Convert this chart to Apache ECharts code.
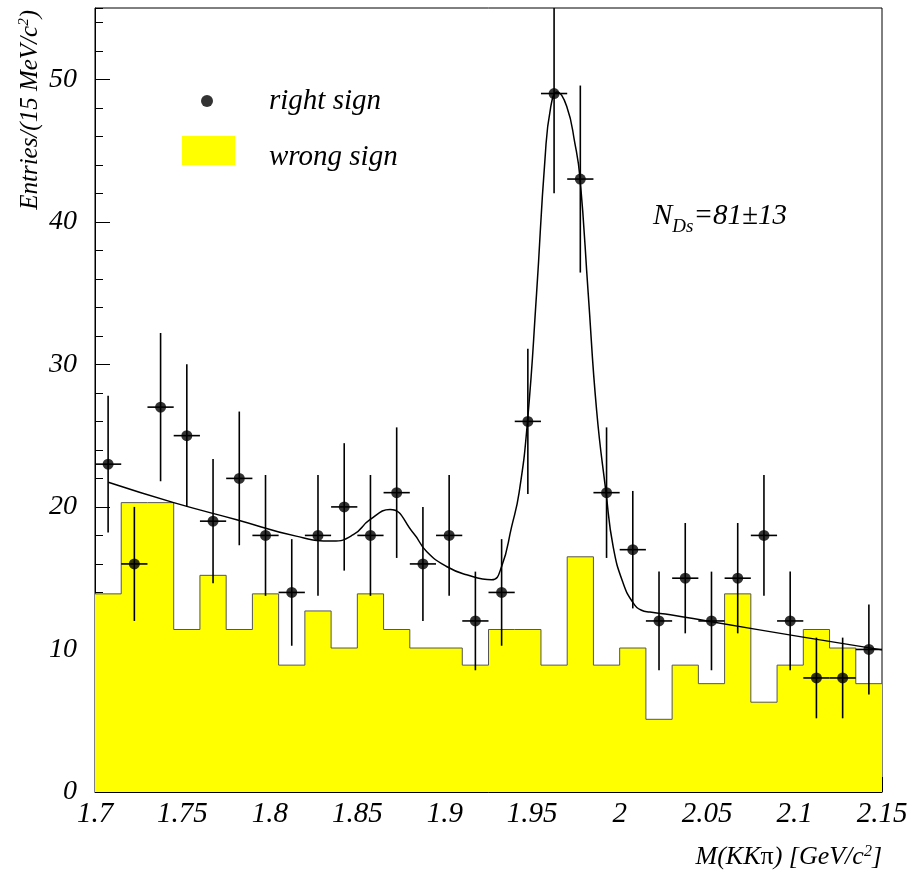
<!DOCTYPE html>
<html>
<head>
<meta charset="utf-8">
<script src="https://cdn.jsdelivr.net/npm/echarts@6/dist/echarts.min.js"></script>
<style>
html,body{margin:0;padding:0;background:#fff;}
#chart{width:912px;height:875px;}
</style>
</head>
<body>
<div id="chart"></div>
<script>
// ---- data ----
const massCenters = [1.7075,1.7225,1.7375,1.7525,1.7675,1.7825,1.7975,1.8125,1.8275,1.8425,1.8575,1.8725,1.8875,1.9025,1.9175,1.9325,1.9475,1.9625,1.9775,1.9925,2.0075,2.0225,2.0375,2.0525,2.0675,2.0825,2.0975,2.1125,2.1275,2.1425];
const rightSign = [23,16,27,25,19,22,18,14,18,20,18,21,16,18,12,14,26,49,43,21,17,12,15,12,15,18,12,8,8,10];
const rightSignErr = [4.8,4.0,5.2,5.0,4.36,4.69,4.24,3.74,4.24,4.47,4.24,4.58,4.0,4.24,3.46,3.74,5.1,7.0,6.56,4.58,4.12,3.46,3.87,3.46,3.87,4.24,3.46,2.83,2.83,3.16];
const halfBin = 0.0075;
const binEdges = [1.700,1.715,1.730,1.745,1.760,1.775,1.790,1.805,1.820,1.835,1.850,1.865,1.880,1.895,1.910,1.925,1.940,1.955,1.970,1.985,2.000,2.015,2.030,2.045,2.060,2.075,2.090,2.105,2.120,2.135,2.150];
const wrongSign = [13.9,20.3,20.3,11.4,15.2,11.4,13.9,8.9,12.7,10.1,13.9,11.4,10.1,10.1,8.9,11.4,11.4,8.9,16.5,8.9,10.1,5.1,8.9,7.6,13.9,6.3,8.9,11.4,10.1,7.6];
const fitX = [1.7076,1.745,1.781,1.815,1.836,1.8477,1.8572,1.8687,1.882,1.8896,1.901,1.9125,1.9268,1.9325,1.9382,1.9425,1.9473,1.9525,1.9573,1.9605,1.9643,1.9697,1.9744,1.9773,1.982,1.9868,1.9922,1.9963,2.002,2.0078,2.0125,2.0173,2.029,2.0516,2.1031,2.150];
const fitY = [21.73,20.3,19.1,17.95,17.6,18.05,19.1,19.82,18.17,16.87,15.82,15.24,14.89,15.82,18.6,21.0,26.0,35.0,44.4,48.0,49.1,48.1,45.5,43.1,35.0,26.8,21.0,17.2,14.65,13.25,12.75,12.62,12.43,11.96,10.9,9.97];
const xTicks = {min:1.7, max:2.15, step:0.05};
const yTicks = {min:0, max:55, step:10, minorStep:2};

// ---- build series data ----
const histData = binEdges.map((e,i) => [e, wrongSign[Math.min(i, wrongSign.length-1)]]);
const pointData = massCenters.map((x,i) => [x, rightSign[i]]);
const errData = massCenters.map((x,i) => [x, rightSign[i], rightSignErr[i]]);
const fitData = fitX.map((x,i) => [x, fitY[i]]);

const serif = "'Liberation Serif','Times New Roman',serif";
const chart = echarts.init(document.getElementById('chart'), null, {renderer:'canvas'});
chart.setOption({
  animation:false,
  backgroundColor:'#fff',
  grid:{left:95,right:30,top:8,bottom:83,show:true,borderColor:'#000',borderWidth:1,backgroundColor:'transparent'},
  legend:[
    {data:[{name:'right sign',icon:'circle'}], left:201, top:86, padding:0, itemWidth:12, itemHeight:12, selectedMode:false,
     itemStyle:{color:'#000'},
     textStyle:{fontFamily:serif,fontStyle:'italic',fontSize:29,color:'#000',padding:[0,0,0,51],lineHeight:30}},
    {data:[{name:'wrong sign',icon:'rect'}], left:182, top:129, padding:0, itemWidth:53, itemHeight:29, selectedMode:false,
     itemStyle:{color:'#ffff00',borderWidth:0},
     formatter:'{t|{name}}',
     textStyle:{fontFamily:serif,fontStyle:'italic',fontSize:29,color:'#000',padding:[0,0,0,29],
       rich:{t:{fontFamily:serif,fontStyle:'italic',fontSize:29,color:'#000',lineHeight:30,padding:[14,0,0,0]}}}}
  ],
  xAxis:{type:'value',min:xTicks.min,max:xTicks.max,interval:xTicks.step,
    axisLine:{show:true,lineStyle:{color:'#000',width:1}},
    axisTick:{show:true,inside:true,length:15,lineStyle:{color:'#000'}},
    minorTick:{show:true,splitNumber:5,length:8,lineStyle:{color:'#000'}},
    splitLine:{show:false},
    axisLabel:{fontFamily:serif,fontStyle:'italic',fontSize:29,color:'#000',margin:8,
      formatter:v => String(+v.toFixed(2))},
    name:'{a|M(KK}{b|π}{a|) [GeV/c}{s|2}{a|]}',
    nameLocation:'end',nameGap:0,
    nameTextStyle:{align:'right',verticalAlign:'top',padding:[52,0,0,0],
      rich:{a:{fontFamily:serif,fontStyle:'italic',fontSize:26,color:'#000'},
            b:{fontFamily:serif,fontSize:26,color:'#000'},
            s:{fontFamily:serif,fontStyle:'italic',fontSize:16,color:'#000',verticalAlign:'top',padding:[0,0,10,0]}}}
  },
  yAxis:[
    {type:'value',min:yTicks.min,max:yTicks.max,interval:yTicks.step,
     axisLine:{show:true,lineStyle:{color:'#000',width:1}},
     axisTick:{show:true,inside:true,length:15,lineStyle:{color:'#000'}},
     splitLine:{show:false},
     axisLabel:{fontFamily:serif,fontStyle:'italic',fontSize:28,color:'#000',margin:18,showMaxLabel:false},
     name:'{a|Entries/(15 MeV/c}{s|2}{a|)}',
     nameLocation:'end',nameGap:-2,nameRotate:90,
     nameTextStyle:{align:'right',verticalAlign:'bottom',padding:[0,0,52,0],
       rich:{a:{fontFamily:serif,fontStyle:'italic',fontSize:25,color:'#000'},
             s:{fontFamily:serif,fontStyle:'italic',fontSize:15,color:'#000',padding:[0,0,11,0]}}}
    },
    {type:'value',min:yTicks.min,max:yTicks.max,interval:yTicks.minorStep,position:'left',
     axisLine:{show:false},
     axisTick:{show:true,inside:true,length:8,lineStyle:{color:'#000'}},
     axisLabel:{show:false},splitLine:{show:false}}
  ],
  series:[
    {name:'wrong sign',type:'line',step:'end',data:histData,symbol:'none',z:1,
     itemStyle:{color:'#ffff00'},
     lineStyle:{color:'#555',width:1},
     areaStyle:{color:'#ffff00',opacity:1}},
    {name:'fit',type:'line',data:fitData,symbol:'none',smooth:0.5,z:3,
     lineStyle:{color:'#000',width:1.5}},
    {name:'errors',type:'custom',data:errData,z:4,clip:true,encode:{x:0,y:1},
     renderItem:function(params,api){
       const x=api.value(0),y=api.value(1),e=api.value(2);
       const lo=api.coord([x,y-e]),hi=api.coord([x,y+e]);
       const l=api.coord([x-halfBin,y]),r=api.coord([x+halfBin,y]);
       return {type:'group',children:[
         {type:'line',shape:{x1:lo[0],y1:lo[1],x2:hi[0],y2:hi[1]},style:{stroke:'#000',lineWidth:1.6}},
         {type:'line',shape:{x1:l[0],y1:l[1],x2:r[0],y2:r[1]},style:{stroke:'#000',lineWidth:1.6}}
       ]};
     }},
    {name:'right sign',type:'scatter',data:pointData,symbol:'circle',symbolSize:11,z:5,
     itemStyle:{color:'#000'}}
  ],
  graphic:[
    {type:'text',left:653,top:202,style:{
      text:'{n|N}{s|Ds}{n|=81±13}',
      rich:{n:{fontFamily:serif,fontStyle:'italic',fontSize:29,fill:'#000',verticalAlign:'top',lineHeight:30},
            s:{fontFamily:serif,fontStyle:'italic',fontSize:19,fill:'#000',padding:[15,0,0,0],lineHeight:34}}
    }}
  ]
});
</script>
</body>
</html>
